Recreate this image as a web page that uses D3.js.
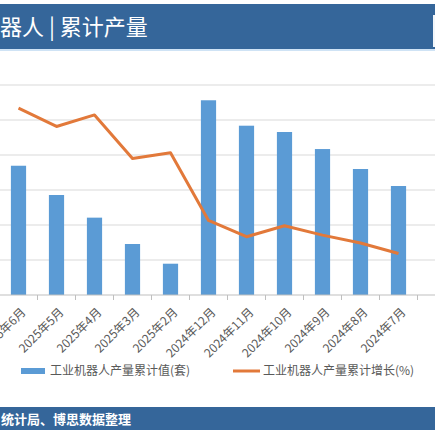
<!DOCTYPE html>
<html>
<head>
<meta charset="utf-8">
<script src="https://cdn.jsdelivr.net/npm/d3@7"></script>
<style>
  body { margin: 0; background: #fff; }
  svg { display: block; font-family: "Noto Sans CJK SC", "Noto Sans", sans-serif; }
</style>
</head>
<body>
<svg width="435" height="436"></svg>
<script>
// data
var categories = ["2025年6月", "2025年5月", "2025年4月", "2025年3月", "2025年2月",
    "2024年12月", "2024年11月", "2024年10月", "2024年9月", "2024年8月", "2024年7月"];
var cumValue = [369316, 285700, 221000, 145700, 89400, 556367, 483700, 465700, 417000, 360000, 311400];
var cumGrowth = [35.6, 32.1, 34.3, 26.0, 27.1, 14.2, 11.1, 13.2, 11.4, 9.9, 7.9];
var leftTicks = [0, 100000, 200000, 300000, 400000, 500000, 600000];

var svg = d3.select("svg"),
    width = +svg.attr("width"),
    height = +svg.attr("height");

var blue = "#5b9bd5", orange = "#e2793a", header = "#35669a";

// header bar
svg.append("rect").attr("x", 0).attr("y", 4).attr("width", width).attr("height", 45).attr("fill", header);
svg.append("rect").attr("x", 0).attr("y", 49).attr("width", width).attr("height", 2).attr("fill", "#cfe3f5");
svg.append("rect").attr("x", 433).attr("y", 15).attr("width", 2).attr("height", 32).attr("fill", "#f2f6fa");
svg.append("text")
    .attr("x", 0).attr("y", 35)
    .attr("fill", "#fff")
    .style("font-size", "22px")
    .text("器人 | 累计产量");

var x = d3.scaleBand()
    .domain(categories)
    .range([-0.5, 417.5])
    .paddingInner(0.6)
    .paddingOuter(0.3);

var y = d3.scaleLinear().domain([0, 600000]).range([295, 85]);
var y2 = d3.scaleLinear().domain([0, 40]).range([295, 85]);

// gridlines
svg.append("g")
    .selectAll("line")
    .data(leftTicks.slice(1))
    .enter().append("line")
    .attr("x1", 0).attr("x2", width)
    .attr("y1", function (d) { return y(d); })
    .attr("y2", function (d) { return y(d); })
    .attr("stroke", "#d9d9d9")
    .attr("stroke-width", 1);

// bars
svg.append("g")
    .selectAll("rect")
    .data(categories)
    .enter().append("rect")
    .attr("x", function (d) { return x(d); })
    .attr("y", function (d, i) { return y(cumValue[i]); })
    .attr("width", x.bandwidth())
    .attr("height", function (d, i) { return y(0) - y(cumValue[i]); })
    .attr("fill", blue);

// x axis
var xAxis = svg.append("g")
    .attr("transform", "translate(0," + y(0) + ")");
xAxis.append("line")
    .attr("x1", 0).attr("x2", width)
    .attr("stroke", "#bfbfbf");
var step = x.step();
xAxis.selectAll(".tk")
    .data(d3.range(categories.length + 1))
    .enter().append("line")
    .attr("class", "tk")
    .attr("x1", function (i) { return -0.5 + i * step; })
    .attr("x2", function (i) { return -0.5 + i * step; })
    .attr("y1", 0).attr("y2", 5)
    .attr("stroke", "#bfbfbf");
xAxis.selectAll("text")
    .data(categories)
    .enter().append("text")
    .attr("transform", function (d) {
        return "translate(" + (x(d) + x.bandwidth() / 2 + 2) + ",12) rotate(-45)";
    })
    .attr("text-anchor", "end")
    .attr("dy", "0.7em")
    .attr("fill", "#595959")
    .style("font-size", "12px")
    .text(function (d) { return d; });

// line
var line = d3.line()
    .x(function (d, i) { return x(categories[i]) + x.bandwidth() / 2; })
    .y(function (d) { return y2(d); });
svg.append("path")
    .datum(cumGrowth)
    .attr("d", line)
    .attr("fill", "none")
    .attr("stroke", orange)
    .attr("stroke-width", 3)
    .attr("stroke-linejoin", "round");

// legend
var lg = svg.append("g");
lg.append("rect").attr("x", 21).attr("y", 368).attr("width", 24).attr("height", 6).attr("fill", blue);
lg.append("text").attr("x", 50).attr("y", 375).attr("fill", "#595959").style("font-size", "12px")
    .text("工业机器人产量累计值(套)");
lg.append("line").attr("x1", 233).attr("x2", 260).attr("y1", 371).attr("y2", 371)
    .attr("stroke", orange).attr("stroke-width", 3);
lg.append("text").attr("x", 263).attr("y", 375).attr("fill", "#595959").style("font-size", "12px")
    .text("工业机器人产量累计增长(%)");

// footer
svg.append("rect").attr("x", 0).attr("y", 407).attr("width", width).attr("height", 23).attr("fill", header);
svg.append("text")
    .attr("x", 1).attr("y", 424)
    .attr("fill", "#fff")
    .style("font-size", "13px")
    .style("font-weight", "bold")
    .text("统计局、博思数据整理");
</script>
</body>
</html>
